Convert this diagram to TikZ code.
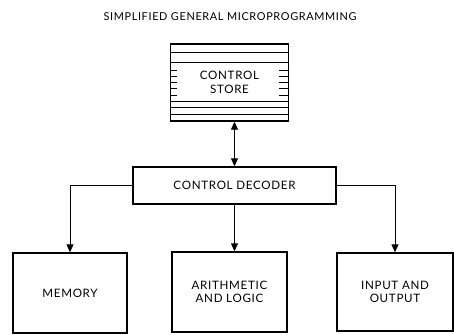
\documentclass[tikz,border=0pt]{standalone}
\usepackage{fontspec}
\setmainfont{Lato}[LetterSpace=6]
\usetikzlibrary{arrows.meta, positioning, calc}

\begin{document}
\begin{tikzpicture}[x=1pt, y=-1pt,
    box/.style={draw, line width=1.4pt, align=center, inner sep=2pt,
      font=\fontsize{11.6}{13.5}\selectfont},
    link/.style={line width=0.9pt, -{Triangle[length=8pt, width=7pt]}},
    dlink/.style={line width=0.9pt, {Triangle[length=8pt, width=7pt]}-{Triangle[length=8pt, width=7pt]}}]
  \useasboundingbox (0,0) rectangle (454,334);

  \node[font=\fontsize{10.9}{12}\selectfont] (title) at (230,17) {SIMPLIFIED GENERAL MICROPROGRAMMING};

  \node[box, minimum width=118pt, minimum height=77pt] (store) at (229.5,82.5) {CONTROL\\STORE};
  % stacked words of the store
  \foreach \y in {52,62,101,107.5,114}
    \draw[line width=0.8pt] (store.west |- 0,\y) -- (store.east |- 0,\y);
  \foreach \y in {70,76,82,88,95} {
    \draw[line width=0.8pt] (store.west |- 0,\y) -- ++(7,0);
    \draw[line width=0.8pt] (store.east |- 0,\y) -- ++(-10,0);
  }

  \node[box, minimum width=203pt, minimum height=37pt] (decoder) at (234.5,185.5) {CONTROL DECODER};

  \node[box, minimum width=114pt, minimum height=80pt] (memory) at (70,293) {MEMORY};
  \node[box, minimum width=115pt, minimum height=80pt] (alu) at (229.5,292) {ARITHMETIC\\AND LOGIC};
  \node[box, minimum width=116pt, minimum height=78pt] (io) at (395,292) {INPUT AND\\OUTPUT};

  \draw[dlink] (decoder.north |- store.south) -- (decoder.north);
  \draw[link] (decoder.west) -| (memory.north);
  \draw[link] (decoder.south) -- (decoder.south |- alu.north);
  \draw[link] (decoder.east) -| (io.north);
\end{tikzpicture}
\end{document}
